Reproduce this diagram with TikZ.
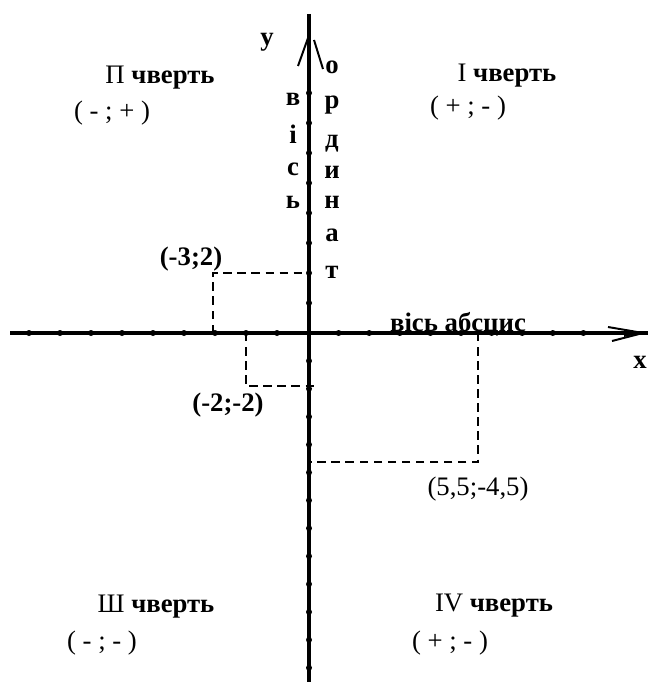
\documentclass[tikz,border=0pt]{standalone}
\usepackage{fontspec}
\setmainfont{Liberation Serif}
\usetikzlibrary{positioning}

\begin{document}
\begin{tikzpicture}[x=0.025cm,y=-0.025cm,
  axis/.style={line width=2.2pt},
  barb/.style={line width=1.4pt},
  guide/.style={line width=0.9pt,dash pattern=on 6pt off 4pt},
  lbl/.style={font=\fontsize{19}{21}\selectfont\bfseries,inner sep=0pt,anchor=base},
  txt/.style={font=\fontsize{19}{21}\selectfont,inner sep=0pt,anchor=base},
]
\useasboundingbox (0,0) rectangle (648,682);
% origin and ends of the axes
\coordinate (O) at (309,333);
\coordinate (xl) at (10,333);
\coordinate (xr) at (648,333);
\coordinate (yt) at (309,14);
\coordinate (yb) at (309,682);
\draw[axis] (xl) -- (xr);
\draw[axis] (yt) -- (yb);
% arrow heads
\coordinate (ytip) at (308,38);
\draw[barb] (ytip) -- (298,66);
\draw[barb] (314,40) -- (323,69);
\coordinate (xtip) at (643,333);
\draw[barb] (608,327) -- (xtip);
\draw[barb] (612,341) -- (xtip);
\fill (624,329) -- (xtip) -- (624,337) -- cycle;
% unit marks
\foreach \i in {1,...,9}{
  \fill (308+30.6*\i,333) circle (3);
  \fill (308-31*\i,333) circle (3);
}
\foreach \i in {1,...,8}{
  \fill (309,333-30*\i) circle (3);
}
\foreach \i in {1,...,12}{
  \fill (309,333+27.9*\i) circle (3);
}
% the three points
\coordinate (pA) at (213,273);
\coordinate (pB) at (246,386);
\coordinate (pC) at (478,462);
\draw[guide] (pA |- O) -- (pA) -- (pA -| O);
\draw[guide] (pB |- O) -- (pB) -- ([xshift=5pt]pB -| O);
\draw[guide] (pC |- O) -- (pC) -- (pC -| O);
\node[lbl] (lA) at (191,265) {(-3;2)};
\node[lbl] (lB) at (228,411) {(-2;-2)};
\node[txt] (lC) at (478,495) {(5,5;-4,5)};
% axis names
\node[lbl] (ny) at (267,46) {y};
\node[lbl] (nx) at (640,368) {x};
\node[lbl] (nabs) at (458,331) {вісь абсцис};
\foreach \c/\yy [count=\k] in {о/74,р/109,д/148,и/179,н/208,а/241,т/278}
  \node[lbl] (ord\k) at (332,\yy) {\c};
\foreach \c/\yy [count=\k] in {в/106,і/144,с/176,ь/208}
  \node[lbl] (vis\k) at (293,\yy) {\c};
% quarters
\node[txt] (q2) at (160,84) {П \textbf{чверть}};
\node[txt] (s2) at (112,120) {( - ; + )};
\node[txt] (q1) at (507,82) {І \textbf{чверть}};
\node[txt] (s1) at (468,115) {( + ; - )};
\node[txt] (q3) at (156,612) {Ш \textbf{чверть}};
\node[txt] (s3) at (102,649) {( - ; - )};
\node[txt] (q4) at (494,611) {IV \textbf{чверть}};
\node[txt] (s4) at (450,649) {( + ; - )};
\end{tikzpicture}
\end{document}
